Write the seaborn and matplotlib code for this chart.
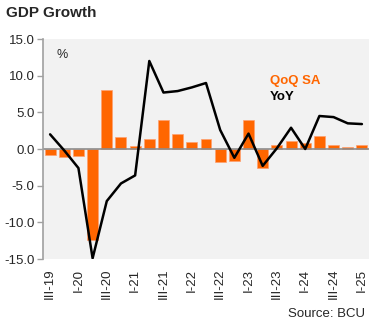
import matplotlib
matplotlib.use("Agg")
import matplotlib.pyplot as plt
import seaborn as sns
import pandas as pd

quarters = ["III-19", "IV-19", "I-20", "II-20", "III-20", "IV-20", "I-21", "II-21",
            "III-21", "IV-21", "I-22", "II-22", "III-22", "IV-22", "I-23", "II-23",
            "III-23", "IV-23", "I-24", "II-24", "III-24", "IV-24", "I-25"]
qoq_sa = [-0.8, -1.1, -0.9, -12.4, 8.0, 1.7, 0.4, 1.3, 3.9, 2.0, 0.9, 1.4,
          -1.8, -1.7, 4.0, -2.6, 0.5, 1.1, 0.8, 1.8, 0.5, 0.3, 0.5]
yoy = [2.0, -0.2, -2.6, -14.9, -7.1, -4.7, -3.6, 12.0, 7.7, 7.9, 8.4, 9.0,
       2.6, -1.2, 2.1, -2.3, 0.1, 2.9, 0.0, 4.5, 4.35, 3.5, 3.4]
tick_labels = quarters[::2]

sns.set_theme(style="white")
plt.rcParams['font.family'] = ['Liberation Sans', 'DejaVu Sans']

df = pd.DataFrame({"q": quarters, "qoq": qoq_sa, "yoy": yoy, "i": range(len(quarters))})

fig = plt.figure(figsize=(3.75, 3.24), dpi=100)
ax = fig.add_axes([43/375, 65/324, 326/375, 220/324])
ax.set_facecolor("#F2F2F2")

sns.barplot(data=df, x="q", y="qoq", color="#FF6600", saturation=1, width=0.77,
            edgecolor="#FFA070", linewidth=0.5, ax=ax)
sns.lineplot(data=df, x="i", y="yoy", color="black", linewidth=1.8, ax=ax)

ax.axhline(0, color="#8C8C8C", linewidth=1.2, zorder=1.5)
ax.set_xlim(-0.5, 22.5)
ax.set_ylim(-15, 15)
ax.set_yticks([-15, -10, -5, 0, 5, 10, 15])
ax.set_yticklabels([f"{v:.1f}" for v in [-15, -10, -5, 0, 5, 10, 15]], fontsize=9.5)
ax.set_xticks(range(0, 23, 2))
ax.set_xticklabels(tick_labels, rotation=90, fontsize=9.5)
ax.tick_params(axis="x", length=0, pad=7)
ax.tick_params(axis="y", length=4, width=1, color="#A0A0A0", pad=2, direction="out", left=True)
for s in ["top", "right", "bottom"]:
    ax.spines[s].set_visible(False)
ax.spines["left"].set_color("#A0A0A0")
ax.spines["left"].set_linewidth(1.2)
ax.set_xlabel("")
ax.set_ylabel("")

ax.text(0.04, 0.955, "%", transform=ax.transAxes, fontsize=9, va="top", ha="left")
ax.text(0.695, 0.81, "QoQ SA", transform=ax.transAxes, fontsize=9.5, color="#FF6600",
        fontweight="bold", va="center", ha="left")
ax.text(0.695, 0.735, "YoY", transform=ax.transAxes, fontsize=9.5, color="black",
        fontweight="bold", va="center", ha="left")

fig.text(6/375, 1 - 13/324, "GDP Growth", fontsize=11, fontweight="bold", va="center", ha="left")
fig.text(365/375, 1 - 314/324, "Source: BCU", fontsize=9.5, va="center", ha="right")

fig.savefig("out.png", dpi=100)
